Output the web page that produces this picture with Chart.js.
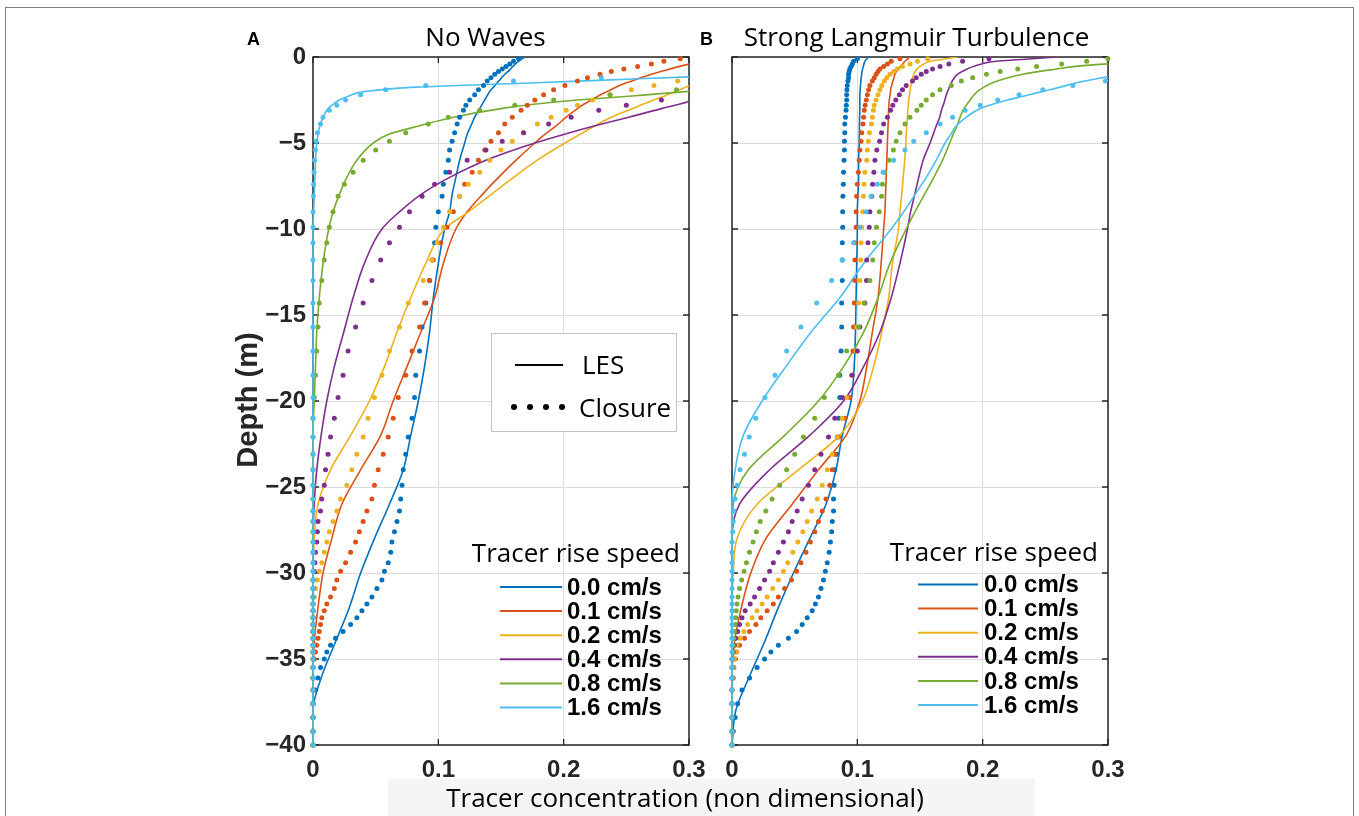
<!DOCTYPE html>
<html>
<head>
<meta charset="utf-8">
<title>Tracer profiles</title>
<script src="https://cdn.jsdelivr.net/npm/chart.js@4.4.1/dist/chart.umd.min.js"></script>
<style>
  html, body { margin: 0; padding: 0; background: #fff; }
  #wrap { position: relative; width: 1359px; height: 816px; overflow: hidden; }
  #frame { position: absolute; left: 5px; top: 7px; width: 1347px; height: 850px; border: 1.5px solid #7f7f7f; }
  canvas { position: absolute; left: 0; top: 0; }
</style>
</head>
<body>
<div id="wrap">
  <div id="frame"></div>
  <canvas id="panelA" width="1359" height="816"></canvas>
  <canvas id="panelB" width="1359" height="816"></canvas>
</div>
<script>
// depth grids (m, positive down)
const lesDepth = [0, 0.25, 0.5, 0.75, 1, 1.25, 1.5, 1.75, 2, 2.25,
  2.5, 2.75, 3, 3.5, 4, 4.5, 5, 6, 7, 8,
  9, 10, 12, 14, 16, 18, 20, 22, 24, 26,
  28, 30, 32, 34, 36, 38, 40]
const closureDepth = [0.1, 0.25, 0.4, 0.55, 0.7, 0.85, 1.0, 1.2, 1.4, 1.65,
  1.9, 2.2, 2.5, 2.8, 3.1, 3.5, 3.9, 4.4, 4.9, 5.4,
  6.0, 6.7, 7.4, 8.1, 9.0, 9.9, 10.8, 11.8, 13.0, 14.3,
  15.7, 17.1, 18.5, 19.8, 21.0, 22.1, 23.1, 24.0, 24.9, 25.7,
  26.4, 27.0, 27.6, 28.2, 28.8, 29.4, 29.9, 30.4, 30.9, 31.4,
  31.8, 32.2, 32.6, 33.0, 33.4, 33.8, 34.2, 34.6, 35.0, 35.5,
  36.1, 36.8, 37.6, 38.4, 39.2, 40.0]

const speedLabels = ['0.0 cm/s', '0.1 cm/s', '0.2 cm/s', '0.4 cm/s', '0.8 cm/s', '1.6 cm/s']
const colors = ['#0072BD', '#D95319', '#EDB120', '#7E2F8E', '#77AC30', '#4DBEEE']
const xTicks = [0, 0.1, 0.2, 0.3]
const yTicks = [0, -5, -10, -15, -20, -25, -30, -35, -40]

// A: No Waves, LES
const lesA_00 = [0.169, 0.164, 0.160, 0.157, 0.153, 0.150, 0.147, 0.144, 0.141, 0.139,
  0.137, 0.135, 0.133, 0.129, 0.126, 0.123, 0.121, 0.117, 0.114, 0.111,
  0.109, 0.105, 0.100, 0.096, 0.093, 0.089, 0.084, 0.078, 0.072, 0.061,
  0.049, 0.038, 0.029, 0.018, 0.007, 0, 0]
const lesA_01 = [0.33, 0.31, 0.295, 0.282, 0.27, 0.26, 0.25, 0.242, 0.235, 0.228,
  0.222, 0.216, 0.211, 0.202, 0.194, 0.185, 0.177, 0.162, 0.148, 0.135,
  0.123, 0.114, 0.104, 0.097, 0.086, 0.075, 0.064, 0.054, 0.038, 0.023,
  0.015, 0.008, 0.004, 0.001, 0, 0, 0]
const lesA_02 = [0.36, 0.355, 0.345, 0.335, 0.325, 0.317, 0.307, 0.298, 0.289, 0.281,
  0.272, 0.263, 0.255, 0.238, 0.225, 0.213, 0.201, 0.179, 0.160, 0.142,
  0.124, 0.105, 0.090, 0.078, 0.067, 0.057, 0.045, 0.030, 0.014, 0.004,
  0.001, 0, 0, 0, 0, 0, 0]
const lesA_04 = [0.45, 0.43, 0.41, 0.39, 0.37, 0.36, 0.35, 0.335, 0.32, 0.31,
  0.303, 0.292, 0.278, 0.252, 0.225, 0.200, 0.177, 0.138, 0.109, 0.086,
  0.069, 0.055, 0.041, 0.032, 0.0245, 0.017, 0.011, 0.0065, 0.003, 0.001,
  0, 0, 0, 0, 0, 0, 0]
const lesA_08 = [0.8, 0.72, 0.64, 0.56, 0.49, 0.43, 0.38, 0.335, 0.300, 0.257,
  0.211, 0.176, 0.150, 0.112, 0.085, 0.060, 0.048, 0.035, 0.027, 0.021,
  0.016, 0.0125, 0.008, 0.005, 0.003, 0.002, 0.001, 0, 0, 0,
  0, 0, 0, 0, 0, 0, 0]
const lesA_16 = [1.0, 0.8, 0.62, 0.45, 0.36, 0.265, 0.178, 0.082, 0.042, 0.029,
  0.021, 0.016, 0.012, 0.008, 0.0055, 0.004, 0.003, 0.002, 0.0015, 0.001,
  0.0005, 0, 0, 0, 0, 0, 0, 0, 0, 0,
  0, 0, 0, 0, 0, 0, 0]

// A: No Waves, closure model
const closA_00 = [0.164, 0.160, 0.157, 0.154, 0.151, 0.148, 0.145, 0.142, 0.139, 0.136,
  0.132, 0.129, 0.125, 0.122, 0.120, 0.117, 0.115, 0.113, 0.111, 0.109,
  0.108, 0.106, 0.104, 0.103, 0.100, 0.098, 0.097, 0.095, 0.093, 0.090,
  0.087, 0.085, 0.082, 0.081, 0.079, 0.076, 0.074, 0.072, 0.071, 0.070,
  0.069, 0.067, 0.065, 0.063, 0.062, 0.060, 0.057, 0.055, 0.051, 0.047,
  0.043, 0.039, 0.035, 0.030, 0.024, 0.018, 0.014, 0.011, 0.009, 0.006,
  0.004, 0.002, 0, 0, 0, 0]
const closA_01 = [0.293, 0.280, 0.270, 0.259, 0.248, 0.238, 0.229, 0.219, 0.211, 0.201,
  0.192, 0.184, 0.177, 0.171, 0.166, 0.159, 0.153, 0.148, 0.142, 0.137,
  0.132, 0.127, 0.121, 0.117, 0.112, 0.107, 0.102, 0.096, 0.093, 0.089,
  0.085, 0.079, 0.074, 0.068, 0.064, 0.060, 0.056, 0.052, 0.049, 0.047,
  0.043, 0.040, 0.037, 0.034, 0.030, 0.026, 0.022, 0.019, 0.017, 0.014,
  0.011, 0.009, 0.007, 0.006, 0.005, 0.004, 0.003, 0.002, 0.001, 0,
  0, 0, 0, 0, 0, 0]
const closA_02 = [0.40, 0.38, 0.37, 0.36, 0.35, 0.34, 0.33, 0.31, 0.291, 0.272,
  0.254, 0.237, 0.223, 0.211, 0.202, 0.190, 0.179, 0.168, 0.159, 0.150,
  0.141, 0.133, 0.124, 0.117, 0.109, 0.104, 0.099, 0.095, 0.088, 0.076,
  0.069, 0.061, 0.055, 0.049, 0.044, 0.040, 0.035, 0.031, 0.027, 0.022,
  0.019, 0.016, 0.013, 0.011, 0.009, 0.007, 0.005, 0.0035, 0.002, 0.001,
  0, 0, 0, 0, 0, 0, 0, 0, 0, 0,
  0, 0, 0, 0, 0, 0]
const closA_04 = [0.45, 0.43, 0.42, 0.40, 0.39, 0.38, 0.37, 0.36, 0.35, 0.335,
  0.32, 0.31, 0.278, 0.250, 0.228, 0.206, 0.188, 0.168, 0.151, 0.138,
  0.123, 0.109, 0.097, 0.087, 0.077, 0.069, 0.061, 0.054, 0.047, 0.040,
  0.034, 0.028, 0.024, 0.020, 0.017, 0.014, 0.012, 0.010, 0.009, 0.007,
  0.006, 0.004, 0.0035, 0.003, 0.002, 0.0015, 0.001, 0, 0, 0,
  0, 0, 0, 0, 0, 0, 0, 0, 0, 0,
  0, 0, 0, 0, 0, 0]
const closA_08 = [0.9, 0.8, 0.7, 0.62, 0.55, 0.5, 0.46, 0.41, 0.37, 0.33,
  0.29, 0.237, 0.192, 0.161, 0.133, 0.108, 0.092, 0.074, 0.061, 0.050,
  0.040, 0.032, 0.025, 0.020, 0.016, 0.013, 0.011, 0.009, 0.007, 0.005,
  0.004, 0.003, 0.002, 0.001, 0, 0, 0, 0, 0, 0,
  0, 0, 0, 0, 0, 0, 0, 0, 0, 0,
  0, 0, 0, 0, 0, 0, 0, 0, 0, 0,
  0, 0, 0, 0, 0, 0]
const closA_16 = [1.5, 1.2, 0.95, 0.75, 0.6, 0.45, 0.34, 0.23, 0.16, 0.09,
  0.058, 0.038, 0.026, 0.019, 0.013, 0.008, 0.006, 0.0035, 0.0025, 0.0018,
  0.0012, 0.0008, 0.0005, 0.0003, 0, 0, 0, 0, 0, 0,
  0, 0, 0, 0, 0, 0, 0, 0, 0, 0,
  0, 0, 0, 0, 0, 0, 0, 0, 0, 0,
  0, 0, 0, 0, 0, 0, 0, 0, 0, 0,
  0, 0, 0, 0, 0, 0]

// B: Strong Langmuir Turbulence, LES
const lesB_00 = [0.109, 0.106, 0.105, 0.104, 0.1035, 0.103, 0.1027, 0.1024, 0.1022, 0.102,
  0.102, 0.102, 0.102, 0.1018, 0.1017, 0.1016, 0.1015, 0.101, 0.101, 0.1005,
  0.100, 0.100, 0.0995, 0.099, 0.0985, 0.0975, 0.095, 0.088, 0.083, 0.075,
  0.062, 0.049, 0.037, 0.026, 0.014, 0.003, 0]
const lesB_01 = [0.142, 0.138, 0.135, 0.132, 0.130, 0.129, 0.128, 0.127, 0.1265, 0.126,
  0.1255, 0.1252, 0.125, 0.1248, 0.1245, 0.1242, 0.124, 0.1235, 0.123, 0.1225,
  0.122, 0.121, 0.119, 0.1165, 0.112, 0.1075, 0.102, 0.091, 0.069, 0.048,
  0.027, 0.015, 0.0075, 0.002, 0, 0, 0]
const lesB_02 = [0.18, 0.158, 0.151, 0.147, 0.145, 0.144, 0.1432, 0.1425, 0.142, 0.1415,
  0.141, 0.1407, 0.1404, 0.140, 0.1395, 0.139, 0.1388, 0.1378, 0.1366, 0.1354,
  0.134, 0.1328, 0.128, 0.125, 0.1195, 0.113, 0.104, 0.086, 0.053, 0.020,
  0.004, 0.001, 0, 0, 0, 0, 0]
const lesB_04 = [0.26, 0.211, 0.195, 0.186, 0.180, 0.177, 0.175, 0.1735, 0.172, 0.1708,
  0.1698, 0.1688, 0.1675, 0.1657, 0.163, 0.1605, 0.158, 0.1525, 0.149, 0.1458,
  0.1425, 0.140, 0.134, 0.127, 0.118, 0.105, 0.089, 0.062, 0.030, 0.006,
  0, 0, 0, 0, 0, 0, 0]
const lesB_08 = [0.36, 0.33, 0.28, 0.254, 0.232, 0.218, 0.208, 0.201, 0.196, 0.1925,
  0.190, 0.1875, 0.185, 0.182, 0.1795, 0.1765, 0.1737, 0.168, 0.161, 0.1535,
  0.146, 0.139, 0.126, 0.1165, 0.105, 0.089, 0.069, 0.042, 0.013, 0.001,
  0, 0, 0, 0, 0, 0, 0]
const lesB_16 = [0.5, 0.44, 0.39, 0.35, 0.315, 0.292, 0.275, 0.262, 0.248, 0.234,
  0.220, 0.208, 0.198, 0.187, 0.179, 0.1745, 0.170, 0.163, 0.155, 0.146,
  0.137, 0.127, 0.105, 0.086, 0.063, 0.043, 0.024, 0.009, 0.0025, 0,
  0, 0, 0, 0, 0, 0, 0]

// B: Strong Langmuir Turbulence, closure model
const closB_00 = [0.100, 0.097, 0.096, 0.095, 0.094, 0.0935, 0.093, 0.093, 0.0925, 0.092,
  0.0917, 0.0915, 0.0915, 0.0912, 0.091, 0.0905, 0.090, 0.090, 0.0897, 0.0897,
  0.0894, 0.089, 0.0888, 0.0885, 0.0883, 0.0883, 0.088, 0.088, 0.088, 0.0875,
  0.0875, 0.087, 0.086, 0.086, 0.085, 0.084, 0.0835, 0.082, 0.0815, 0.081,
  0.081, 0.080, 0.0795, 0.0785, 0.0775, 0.076, 0.0745, 0.073, 0.071, 0.069,
  0.0665, 0.064, 0.060, 0.056, 0.0515, 0.045, 0.037, 0.031, 0.026, 0.020,
  0.014, 0.008, 0.0045, 0.0025, 0.001, 0]
const closB_01 = [0.134, 0.127, 0.124, 0.121, 0.118, 0.1165, 0.115, 0.1135, 0.112, 0.110,
  0.109, 0.108, 0.1072, 0.1062, 0.1055, 0.105, 0.1045, 0.1035, 0.103, 0.102,
  0.1015, 0.1008, 0.100, 0.0995, 0.099, 0.099, 0.098, 0.098, 0.098, 0.0975,
  0.097, 0.0965, 0.0955, 0.094, 0.090, 0.085, 0.082, 0.080, 0.078, 0.075,
  0.072, 0.069, 0.066, 0.0625, 0.059, 0.055, 0.0515, 0.0475, 0.042, 0.037,
  0.033, 0.028, 0.023, 0.019, 0.014, 0.010, 0.006, 0.0035, 0.0025, 0.0015,
  0.001, 0, 0, 0, 0, 0]
const closB_02 = [0.156, 0.148, 0.142, 0.136, 0.132, 0.129, 0.126, 0.1235, 0.1215, 0.1195,
  0.118, 0.1165, 0.115, 0.1135, 0.1128, 0.112, 0.1113, 0.1096, 0.1088, 0.108,
  0.1075, 0.106, 0.1053, 0.1048, 0.1043, 0.1035, 0.103, 0.1027, 0.102, 0.101,
  0.0995, 0.099, 0.096, 0.0915, 0.088, 0.084, 0.080, 0.076, 0.072, 0.068,
  0.0635, 0.060, 0.0565, 0.0525, 0.0485, 0.0445, 0.041, 0.037, 0.0325, 0.028,
  0.024, 0.020, 0.016, 0.0125, 0.0095, 0.0065, 0.004, 0.003, 0.002, 0.001,
  0, 0, 0, 0, 0, 0]
const closB_04 = [0.205, 0.184, 0.173, 0.166, 0.160, 0.155, 0.151, 0.147, 0.144, 0.139,
  0.136, 0.1335, 0.1307, 0.1283, 0.1265, 0.124, 0.121, 0.1193, 0.1178, 0.1155,
  0.114, 0.1132, 0.1122, 0.1115, 0.110, 0.1095, 0.1085, 0.1075, 0.1073, 0.106,
  0.102, 0.100, 0.096, 0.088, 0.082, 0.077, 0.071, 0.066, 0.061, 0.056,
  0.052, 0.048, 0.045, 0.041, 0.037, 0.033, 0.030, 0.026, 0.022, 0.018,
  0.0145, 0.0105, 0.008, 0.006, 0.0045, 0.003, 0.0018, 0.001, 0, 0,
  0, 0, 0, 0, 0, 0]
const closB_08 = [0.30, 0.283, 0.263, 0.243, 0.228, 0.214, 0.203, 0.192, 0.183, 0.175,
  0.166, 0.160, 0.155, 0.151, 0.1475, 0.142, 0.138, 0.134, 0.131, 0.1288,
  0.1253, 0.1217, 0.120, 0.1193, 0.1175, 0.1153, 0.1135, 0.1123, 0.110, 0.1053,
  0.101, 0.0915, 0.085, 0.0737, 0.066, 0.057, 0.050, 0.0436, 0.038, 0.032,
  0.027, 0.0225, 0.0195, 0.0168, 0.014, 0.0115, 0.0096, 0.0077, 0.006, 0.0048,
  0.004, 0.0034, 0.003, 0.0026, 0.002, 0.0014, 0.001, 0.0006, 0, 0,
  0, 0, 0, 0, 0, 0]
const closB_16 = [0.60, 0.55, 0.50, 0.45, 0.41, 0.375, 0.345, 0.32, 0.298, 0.272,
  0.248, 0.229, 0.212, 0.198, 0.186, 0.176, 0.166, 0.155, 0.145, 0.138,
  0.129, 0.1205, 0.116, 0.111, 0.107, 0.102, 0.097, 0.088, 0.0795, 0.0676,
  0.055, 0.0436, 0.0343, 0.0263, 0.019, 0.0138, 0.010, 0.0064, 0.0043, 0.0024,
  0.0015, 0.001, 0.0005, 0, 0, 0, 0, 0, 0, 0,
  0, 0, 0, 0, 0, 0, 0, 0, 0, 0,
  0, 0, 0, 0, 0, 0]

const ink = '#262626'
const gridColor = '#dcdcdc'
const sansFont = '"Open Sans", "Noto Sans", sans-serif'
const boldFont = '"Liberation Sans", Arial, sans-serif'

function profile(depths, values) {
    return values.map((v, i) => ({ x: v, y: -depths[i] }))
}

function buildDatasets(lesSets, closureSets) {
    const layers = [] // bottom to top
    lesSets.forEach((vals, i) => layers.push({
        data: profile(lesDepth, vals),
        borderColor: colors[i],
        borderWidth: 1.6,
        borderJoinStyle: 'round',
        pointRadius: 0,
        cubicInterpolationMode: 'monotone',
        fill: false,
        clip: { left: 2, top: 0, right: 0, bottom: 2 }
    }))
    closureSets.forEach((vals, i) => layers.push({
        data: profile(closureDepth, vals),
        showLine: false,
        borderColor: colors[i],
        pointRadius: 2.5,
        pointBorderWidth: 0,
        pointBackgroundColor: colors[i],
        clip: 4
    }))
    // chart.js draws the first dataset last
    return layers.reverse()
}

const decor = {
    id: 'decor',
    beforeDatasetsDraw(chart) {
        const { ctx, chartArea: a, scales } = chart
        ctx.save()
        ctx.strokeStyle = ink
        ctx.lineWidth = 1.5
        ctx.strokeRect(a.left, a.top, a.right - a.left, a.bottom - a.top)
        ctx.lineWidth = 1.3
        ctx.beginPath()
        xTicks.forEach(v => {
            const px = scales.x.getPixelForValue(v)
            ctx.moveTo(px, a.top); ctx.lineTo(px, a.top + 6)
            ctx.moveTo(px, a.bottom); ctx.lineTo(px, a.bottom - 6)
        })
        yTicks.forEach(v => {
            const py = scales.y.getPixelForValue(v)
            ctx.moveTo(a.left, py); ctx.lineTo(a.left + 6, py)
            ctx.moveTo(a.right, py); ctx.lineTo(a.right - 6, py)
        })
        ctx.stroke()
        ctx.restore()
    },
    afterDraw(chart, args, o) {
        const ctx = chart.ctx
        ctx.save()
        ctx.fillStyle = '#000'
        ctx.textBaseline = 'alphabetic'

        // panel letter and title
        ctx.font = `bold 18px ${boldFont}`
        ctx.textAlign = 'left'
        ctx.fillText(o.letter, o.letterX, 45)
        ctx.font = `26px ${sansFont}`
        ctx.textAlign = 'center'
        ctx.fillText(o.title, o.titleX, 46)

        // rise speed legend
        ctx.textAlign = 'right'
        ctx.fillText('Tracer rise speed', o.speedRight, o.speedTitleY)
        ctx.font = `bold 24px ${boldFont}`
        ctx.textAlign = 'left'
        ctx.textBaseline = 'middle'
        speedLabels.forEach((label, i) => {
            const yy = o.speedRowY + i * 24.1
            ctx.strokeStyle = colors[i]
            ctx.lineWidth = 2
            ctx.beginPath()
            ctx.moveTo(o.speedLineX0, yy)
            ctx.lineTo(o.speedLineX1, yy)
            ctx.stroke()
            ctx.fillStyle = '#000'
            ctx.fillText(label, o.speedTextX, yy + 1)
        })

        // LES / Closure legend
        if (o.methodBox) {
            ctx.fillStyle = '#fff'
            ctx.fillRect(491, 333, 185, 98)
            ctx.strokeStyle = '#c4c4c4'
            ctx.lineWidth = 1
            ctx.strokeRect(491.5, 333.5, 185, 98)
            ctx.strokeStyle = '#000'
            ctx.lineWidth = 1.8
            ctx.beginPath()
            ctx.moveTo(515, 365)
            ctx.lineTo(563, 365)
            ctx.stroke()
            ctx.fillStyle = '#000'
            ;[514, 530, 546, 562].forEach(px => {
                ctx.beginPath()
                ctx.arc(px, 407, 3, 0, Math.PI * 2)
                ctx.fill()
            })
            ctx.font = `26px ${sansFont}`
            ctx.textBaseline = 'alphabetic'
            ctx.fillText('LES', 582, 373.5)
            ctx.fillText('Closure', 579, 416.5)
        }

        // shared axis titles
        if (o.yTitle) {
            ctx.save()
            ctx.translate(257, 400)
            ctx.rotate(-Math.PI / 2)
            ctx.font = `bold 29px ${boldFont}`
            ctx.textAlign = 'center'
            ctx.textBaseline = 'alphabetic'
            ctx.fillStyle = ink
            ctx.fillText('Depth (m)', 0, 0)
            ctx.restore()
        }
        if (o.xTitle) {
            ctx.fillStyle = '#f5f5f5'
            ctx.fillRect(388, 779, 647, 40)
            ctx.fillStyle = '#000'
            ctx.font = `26px ${sansFont}`
            ctx.textAlign = 'center'
            ctx.textBaseline = 'alphabetic'
            ctx.fillText('Tracer concentration (non dimensional)', 685, 807)
        }
        ctx.restore()
    }
}

function makePanel(canvasId, lesSets, closureSets, cfg) {
    const tickFont = { family: boldFont, size: 24, weight: 'bold' }
    return new Chart(document.getElementById(canvasId), {
        type: 'line',
        data: { datasets: buildDatasets(lesSets, closureSets) },
        options: {
            indexAxis: 'y',
            responsive: false,
            animation: false,
            events: [],
            layout: { padding: cfg.padding },
            plugins: {
                legend: { display: false },
                tooltip: { enabled: false },
                decor: cfg.decor
            },
            scales: {
                x: {
                    type: 'linear',
                    position: 'bottom',
                    min: 0,
                    max: 0.3,
                    afterFit: scale => { scale.height = 50 },
                    ticks: {
                        stepSize: 0.1,
                        padding: 11,
                        maxRotation: 0,
                        color: ink,
                        font: tickFont,
                        callback: v => v === 0 ? '0' : v.toFixed(1)
                    },
                    grid: { color: gridColor, drawTicks: false },
                    border: { display: false }
                },
                y: {
                    type: 'linear',
                    position: 'left',
                    min: -40,
                    max: 0,
                    afterFit: scale => { scale.width = cfg.yWidth },
                    ticks: {
                        stepSize: 5,
                        display: cfg.yLabels,
                        padding: 7,
                        color: ink,
                        font: tickFont,
                        callback: v => v === 0 ? '0' : '\u2212' + Math.abs(v)
                    },
                    grid: { color: gridColor, drawTicks: false },
                    border: { display: false }
                }
            }
        },
        plugins: [decor]
    })
}

makePanel('panelA',
    [lesA_00, lesA_01, lesA_02, lesA_04, lesA_08, lesA_16],
    [closA_00, closA_01, closA_02, closA_04, closA_08, closA_16],
    {
        padding: { left: 213, right: 670, top: 57, bottom: 21 },
        yWidth: 100,
        yLabels: true,
        decor: {
            letter: 'A', letterX: 247, title: 'No Waves', titleX: 485.5,
            speedRight: 680, speedTitleY: 562, speedRowY: 587,
            speedLineX0: 500, speedLineX1: 562, speedTextX: 567,
            methodBox: true, yTitle: true, xTitle: false
        }
    })

makePanel('panelB',
    [lesB_00, lesB_01, lesB_02, lesB_04, lesB_08, lesB_16],
    [closB_00, closB_01, closB_02, closB_04, closB_08, closB_16],
    {
        padding: { left: 732, right: 251, top: 57, bottom: 21 },
        yWidth: 0,
        yLabels: false,
        decor: {
            letter: 'B', letterX: 700, title: 'Strong Langmuir Turbulence', titleX: 916.5,
            speedRight: 1098, speedTitleY: 560.5, speedRowY: 584.5,
            speedLineX0: 918, speedLineX1: 978, speedTextX: 984,
            methodBox: false, yTitle: false, xTitle: true
        }
    })
</script>
</body>
</html>
